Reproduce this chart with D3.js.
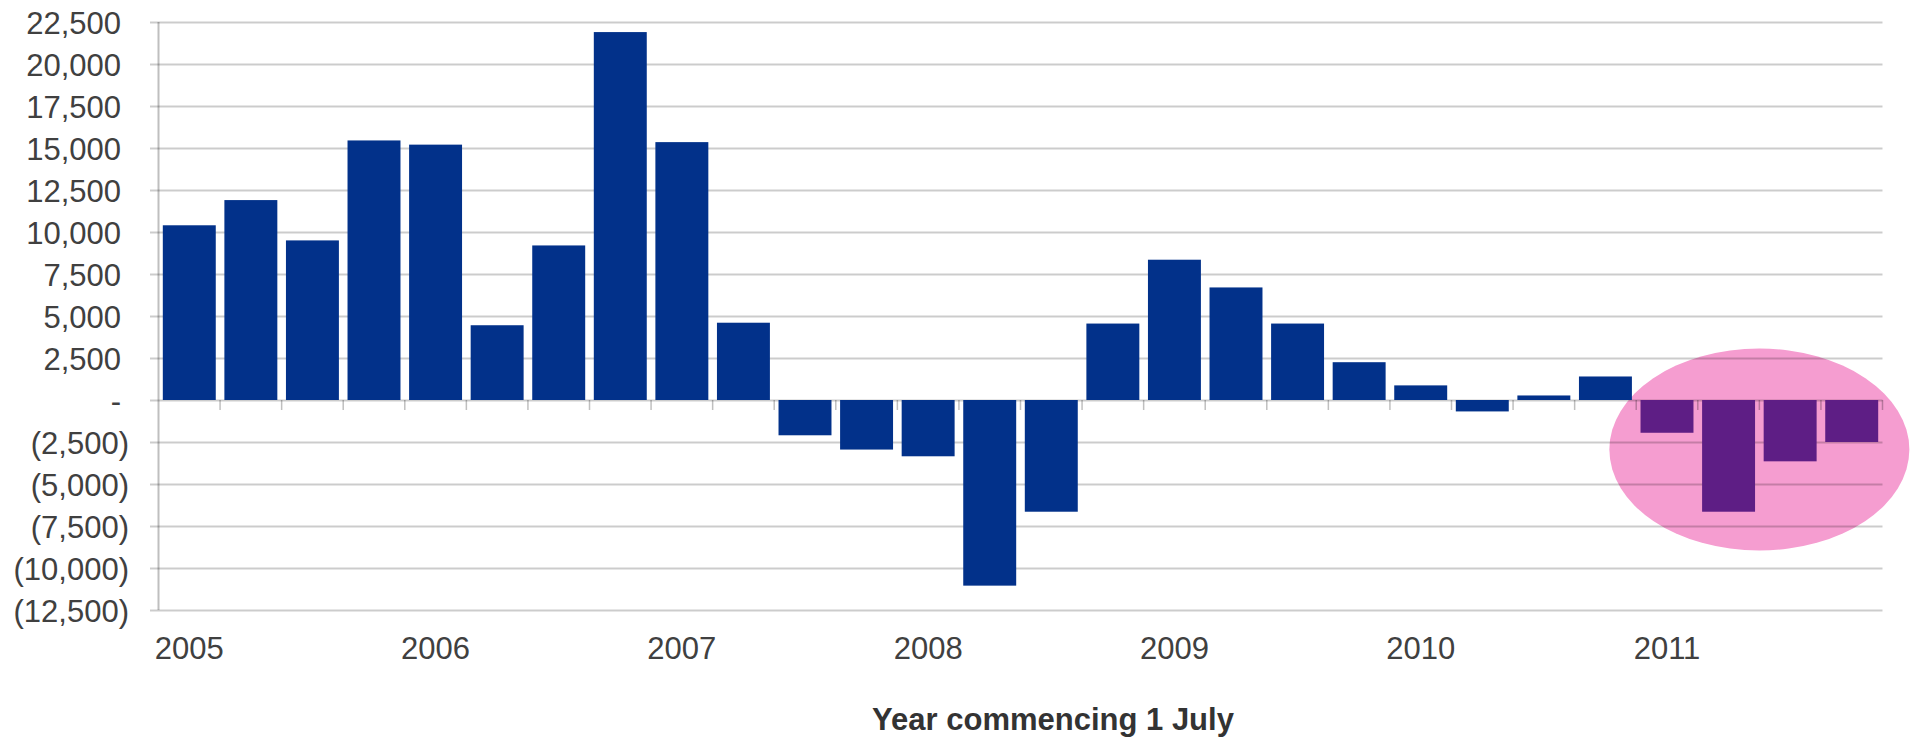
<!DOCTYPE html>
<html>
<head>
<meta charset="utf-8">
<script src="https://cdn.jsdelivr.net/npm/d3@7"></script>
<style>
  body { margin: 0; background: #fff; }
  svg { display: block; font-family: "Liberation Sans", Arial, sans-serif; }
</style>
</head>
<body>
<div id="chart"></div>
<script>
// quarters of each year commencing 1 July
const years = [2005, 2006, 2007, 2008, 2009, 2010, 2011];
const quarters = ["Q1", "Q2", "Q3", "Q4"];
const categories = years.flatMap((yr) => quarters.map((q) => `${yr} ${q}`));

// net change per quarter
const values = [
  10400, 11900, 9500, 15450,
  15200, 4450, 9200, 21900,
  15350, 4600, -2100, -2950,
  -3350, -11050, -6650, 4550,
  8350, 6700, 4550, 2250,
  870, -680, 270, 1400,
  -1950, -6650, -3650, -2500,
];

// the circled quarters
const highlighted = ["2011 Q1", "2011 Q2", "2011 Q3", "2011 Q4"];

const yTicks = [22500, 20000, 17500, 15000, 12500, 10000, 7500, 5000, 2500, 0,
  -2500, -5000, -7500, -10000, -12500];
const xAxisLabel = "Year commencing 1 July";

const data = categories.map((c, i) => ({ cat: c, value: values[i] }));

const width = 1920, height = 737;
const plot = { left: 158.5, right: 1882.5, top: 22, bottom: 610 };

const svg = d3.select("#chart").append("svg")
  .attr("width", width)
  .attr("height", height);

svg.append("rect").attr("width", width).attr("height", height).attr("fill", "#fff");

const x = d3.scaleBand()
  .domain(categories)
  .range([plot.left, plot.right])
  .paddingInner(0.14)
  .paddingOuter(0.07);

const y = d3.scaleLinear()
  .domain([-12500, 22500])
  .range([plot.bottom, plot.top]);

// pink highlight ellipse behind the last year
const hiFirst = x(highlighted[0]);
const hiLast = x(highlighted[highlighted.length - 1]) + x.bandwidth();
svg.append("ellipse")
  .attr("cx", (hiFirst + hiLast) / 2)
  .attr("cy", y(-2950))
  .attr("rx", 150)
  .attr("ry", 101)
  .attr("fill", "#f59dd0");

// gridlines and y labels
const fmt = d3.format(",");
const yAxis = d3.axisLeft(y)
  .tickValues(yTicks)
  .tickSizeInner(-(plot.right - 150))
  .tickSizeOuter(0)
  .tickPadding(29)
  .tickFormat((d) => (d === 0 ? "-" : d < 0 ? `(${fmt(-d)})` : fmt(d)));

const gy = svg.append("g")
  .attr("transform", "translate(150,0)")
  .call(yAxis);
gy.select(".domain").remove();
gy.selectAll(".tick line")
  .attr("stroke", "#000")
  .attr("stroke-opacity", 0.2)
  .attr("stroke-width", 2);
gy.selectAll(".tick text")
  .attr("fill", "#404040")
  .style("font-size", "31px")
  .attr("dy", "0.36em")
  .attr("x", (d) => (d < 0 ? -21 : -29));

// vertical axis line
svg.append("line")
  .attr("x1", plot.left).attr("x2", plot.left)
  .attr("y1", y(22500)).attr("y2", y(-12500))
  .attr("stroke", "#000").attr("stroke-opacity", 0.25)
  .attr("stroke-width", 2);

// tick marks between the bars, hanging from the zero line
const bounds = categories.slice(1).map((c) => x(c) - (x.step() * x.paddingInner()) / 2);
bounds.push(plot.right);
svg.append("g")
  .selectAll("line")
  .data(bounds)
  .join("line")
  .attr("x1", (d) => d).attr("x2", (d) => d)
  .attr("y1", y(0)).attr("y2", y(0) + 10)
  .attr("stroke", "#000").attr("stroke-opacity", 0.25)
  .attr("stroke-width", 1.5);

// bars
svg.append("g")
  .selectAll("rect")
  .data(data)
  .join("rect")
  .attr("x", (d) => x(d.cat))
  .attr("width", x.bandwidth())
  .attr("y", (d) => y(Math.max(0, d.value)))
  .attr("height", (d) => Math.abs(y(d.value) - y(0)))
  .attr("fill", (d) => (highlighted.includes(d.cat) ? "#5e1e85" : "#02318a"));

// year labels under the first quarter of each year
svg.append("g")
  .selectAll("text")
  .data(years)
  .join("text")
  .attr("x", (d) => x(`${d} Q1`) + x.bandwidth() / 2)
  .attr("y", 659)
  .attr("text-anchor", "middle")
  .attr("fill", "#404040")
  .style("font-size", "31px")
  .text((d) => d);

// x axis title
svg.append("text")
  .attr("x", 1053)
  .attr("y", 730)
  .attr("text-anchor", "middle")
  .attr("fill", "#333")
  .style("font-size", "31px")
  .style("font-weight", "bold")
  .text(xAxisLabel);
</script>
</body>
</html>
